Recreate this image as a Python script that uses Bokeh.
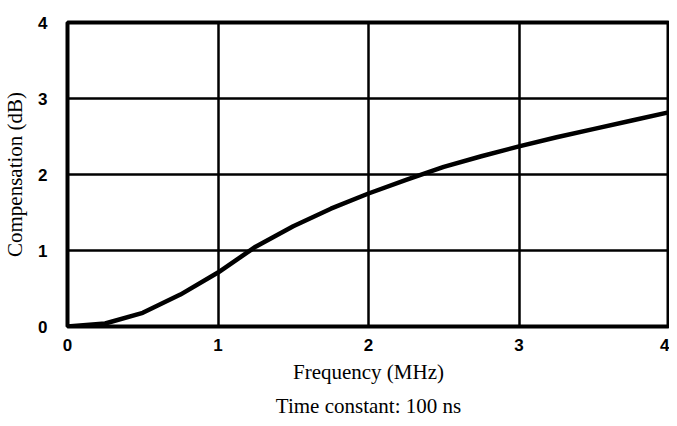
from bokeh.plotting import figure
from bokeh.models import Range1d, FixedTicker, Title
from bokeh.embed import file_html
from bokeh.resources import INLINE

freq_mhz = [0, 0.25, 0.5, 0.75, 1.0, 1.25, 1.5, 1.75, 2.0, 2.25, 2.5, 2.75, 3.0, 3.25, 3.5, 3.75, 4.0]
comp_db = [0, 0.04, 0.18, 0.42, 0.71, 1.05, 1.32, 1.55, 1.75, 1.93, 2.1, 2.24, 2.37, 2.49, 2.6, 2.71, 2.82]
x_ticks = [0, 1, 2, 3, 4]
y_ticks = [0, 1, 2, 3, 4]

p = figure(width=669, frame_height=304, output_backend="svg", toolbar_location=None,
           x_range=Range1d(0, 4), y_range=Range1d(0, 4),
           min_border_left=65, min_border_top=22, min_border_right=0, min_border_bottom=60)

p.line(freq_mhz, comp_db, line_color="black", line_width=4.5, line_join="round")

p.outline_line_color = "black"
p.outline_line_width = 4
p.outline_line_alpha = 1

for ax in (p.xaxis[0], p.yaxis[0]):
    ax.axis_line_color = None
    ax.major_tick_line_color = None
    ax.minor_tick_line_color = None
    ax.major_label_text_font = "Liberation Sans"
    ax.major_label_text_font_size = "17px"
    ax.major_label_text_font_style = "bold"
    ax.major_label_text_color = "black"
    ax.axis_label_text_font = "Liberation Serif"
    ax.axis_label_text_font_size = "21px"
    ax.axis_label_text_font_style = "normal"
    ax.axis_label_text_color = "black"

p.xaxis.ticker = FixedTicker(ticks=x_ticks)
p.yaxis.ticker = FixedTicker(ticks=y_ticks)
p.xaxis.axis_label = "Frequency (MHz)"
p.yaxis.axis_label = "Compensation (dB)"
p.xaxis.major_label_standoff = 6
p.yaxis.major_label_standoff = 14
p.xaxis.axis_label_standoff = 6
p.yaxis.axis_label_standoff = 8

p.xgrid.ticker = FixedTicker(ticks=[1, 2, 3])
p.ygrid.ticker = FixedTicker(ticks=[1, 2, 3])
p.grid.grid_line_color = "black"
p.grid.grid_line_width = 2.5
p.grid.grid_line_alpha = 1

t = Title(text="Time constant: 100 ns", align="center", text_font="Liberation Serif",
          text_font_size="21px", text_font_style="normal", text_color="black",
          standoff=11)
p.add_layout(t, "below")

p.background_fill_color = "white"
p.border_fill_color = "white"

open("out.html", "w").write(file_html(p, INLINE))
